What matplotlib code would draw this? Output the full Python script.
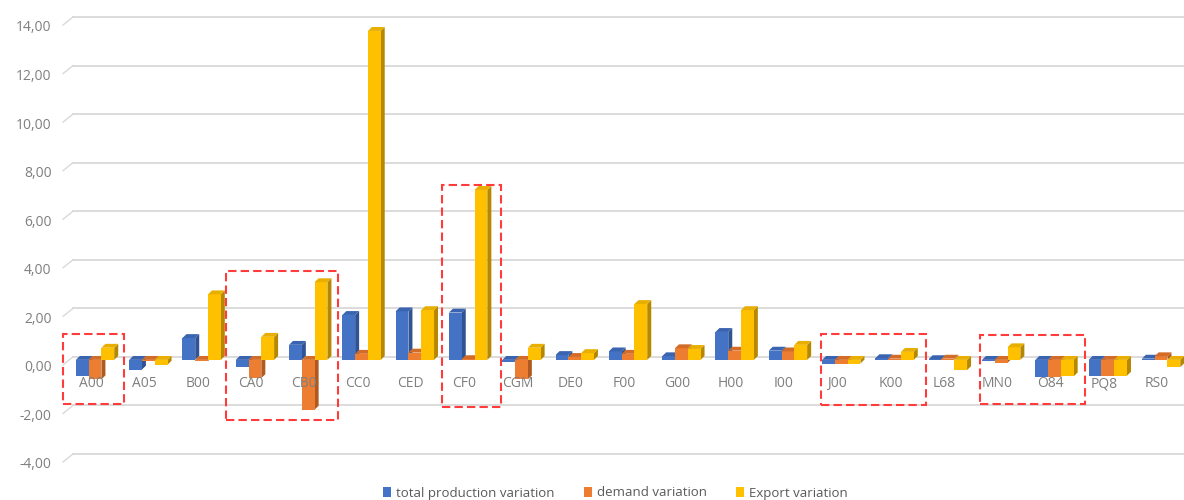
import matplotlib
matplotlib.use('Agg')
import matplotlib.pyplot as plt
from matplotlib.patches import Rectangle
from matplotlib.transforms import ScaledTranslation
import numpy as np

plt.rcParams['font.family'] = ['Open Sans', 'DejaVu Sans']

sectors = ['A00', 'A05', 'B00', 'CA0', 'CB0', 'CC0', 'CED', 'CF0', 'CGM', 'DE0', 'F00',
           'G00', 'H00', 'I00', 'J00', 'K00', 'L68', 'MN0', 'O84', 'PQ8', 'RS0']
production_var = [-0.65, -0.40, 0.90, -0.30, 0.62, 1.85, 2.00, 1.95, -0.10, 0.20, 0.35,
                  0.15, 1.15, 0.38, -0.18, 0.07, 0.03, -0.05, -0.72, -0.65, 0.05]
demand_var = [-0.80, -0.05, -0.05, -0.75, -2.05, 0.25, 0.30, 0.03, -0.80, 0.12, 0.25,
              0.48, 0.38, 0.35, -0.17, 0.05, 0.05, -0.12, -0.70, -0.65, 0.15]
export_var = [0.50, -0.20, 2.70, 0.95, 3.20, 13.55, 2.05, 7.00, 0.50, 0.28, 2.30,
              0.45, 2.05, 0.62, -0.15, 0.33, -0.42, 0.52, -0.68, -0.65, -0.30]
series_names = ['total production variation', 'demand variation', 'Export variation']

# highlighted groups: x left, x right (category units), y bottom, y top
highlights = [(-0.60, 0.54, -1.94, 0.95),
              (2.46, 4.56, -2.62, 3.55),
              (6.51, 7.62, -2.06, 7.10),
              (13.62, 15.59, -1.98, 0.95),
              (16.60, 18.57, -1.94, 0.91)]

front = ['#4472C4', '#ED7D31', '#FFC000']
side = ['#2F5393', '#AE5A21', '#B58800']
top = ['#3A64B0', '#D36C28', '#E8AE00']

fig = plt.figure(figsize=(11.84, 5.0), dpi=100)
ax = fig.add_axes([60 / 1184, 30 / 500, 1 - 60 / 1184, 470 / 500])

x = np.arange(len(sectors))
w = 0.24
dx, dy = 0.075, 0.16
# bars stand a little in front of the back wall
front_plane = ax.transData + ScaledTranslation(0, -0.03, fig.dpi_scale_trans)

ax.set_xlim(-0.657, 20.43)
ax.set_ylim(-4.66, 14.70)

# back wall gridlines with the small floor slant on the left
ticks = np.arange(-4, 15, 2)
for t in ticks:
    ax.plot([-0.413, 20.43], [t, t], color='#d9d9d9', lw=1.3, zorder=1, clip_on=False)
    ax.plot([-0.60, -0.413], [t - 0.33, t], color='#d9d9d9', lw=1.0, zorder=1, clip_on=False)

for k, vals in enumerate([production_var, demand_var, export_var]):
    xs = x + (k - 1) * w
    ax.bar(xs, vals, w, color=front[k], zorder=3 + 2 * k, label=series_names[k],
           transform=front_plane)
    for xc, v in zip(xs, vals):
        x0, x1 = xc - w / 2, xc + w / 2
        lo, hi = min(0, v), max(0, v)
        ax.fill([x1, x1 + dx, x1 + dx, x1], [lo, lo + dy, hi + dy, hi],
                color=side[k], lw=0, zorder=2 + 2 * k, transform=front_plane)
        ax.fill([x0, x0 + dx, x1 + dx, x1], [hi, hi + dy, hi + dy, hi],
                color=top[k], lw=0, zorder=3 + 2 * k, transform=front_plane)

for xl, xr, y0, y1 in highlights:
    ax.add_patch(Rectangle((xl, y0), xr - xl, y1 - y0, fill=False,
                           edgecolor='#FF3B3B', lw=1.5, linestyle=(0, (4, 2)), zorder=20))

ax.set_yticks(ticks)
ax.set_yticklabels(['{:.2f}'.format(t).replace('.', ',') for t in ticks])
ax.tick_params(axis='y', length=0, pad=6, labelsize=10, labelcolor='#7f7f7f')
for lab in ax.get_yticklabels():
    lab.set_transform(lab.get_transform() + ScaledTranslation(0, -0.09, fig.dpi_scale_trans))

ax.spines['bottom'].set_position(('data', 0))
ax.set_xticks(x)
ax.set_xticklabels(sectors)
ax.tick_params(axis='x', length=0, pad=14, labelsize=10, labelcolor='#7f7f7f')
for lab in ax.get_xticklabels():
    lab.set_transform(lab.get_transform() + ScaledTranslation(-0.04, 0, fig.dpi_scale_trans))
ax.xaxis.set_zorder(15)

for s in ax.spines.values():
    s.set_visible(False)

fig.legend(loc='center', bbox_to_anchor=(0.52, 0.014), ncol=3, frameon=False,
           fontsize=9.5, labelcolor='#595959', handlelength=0.6, handleheight=0.7,
           handletextpad=0.4, columnspacing=2.2)

fig.savefig('out.png', dpi=100)
